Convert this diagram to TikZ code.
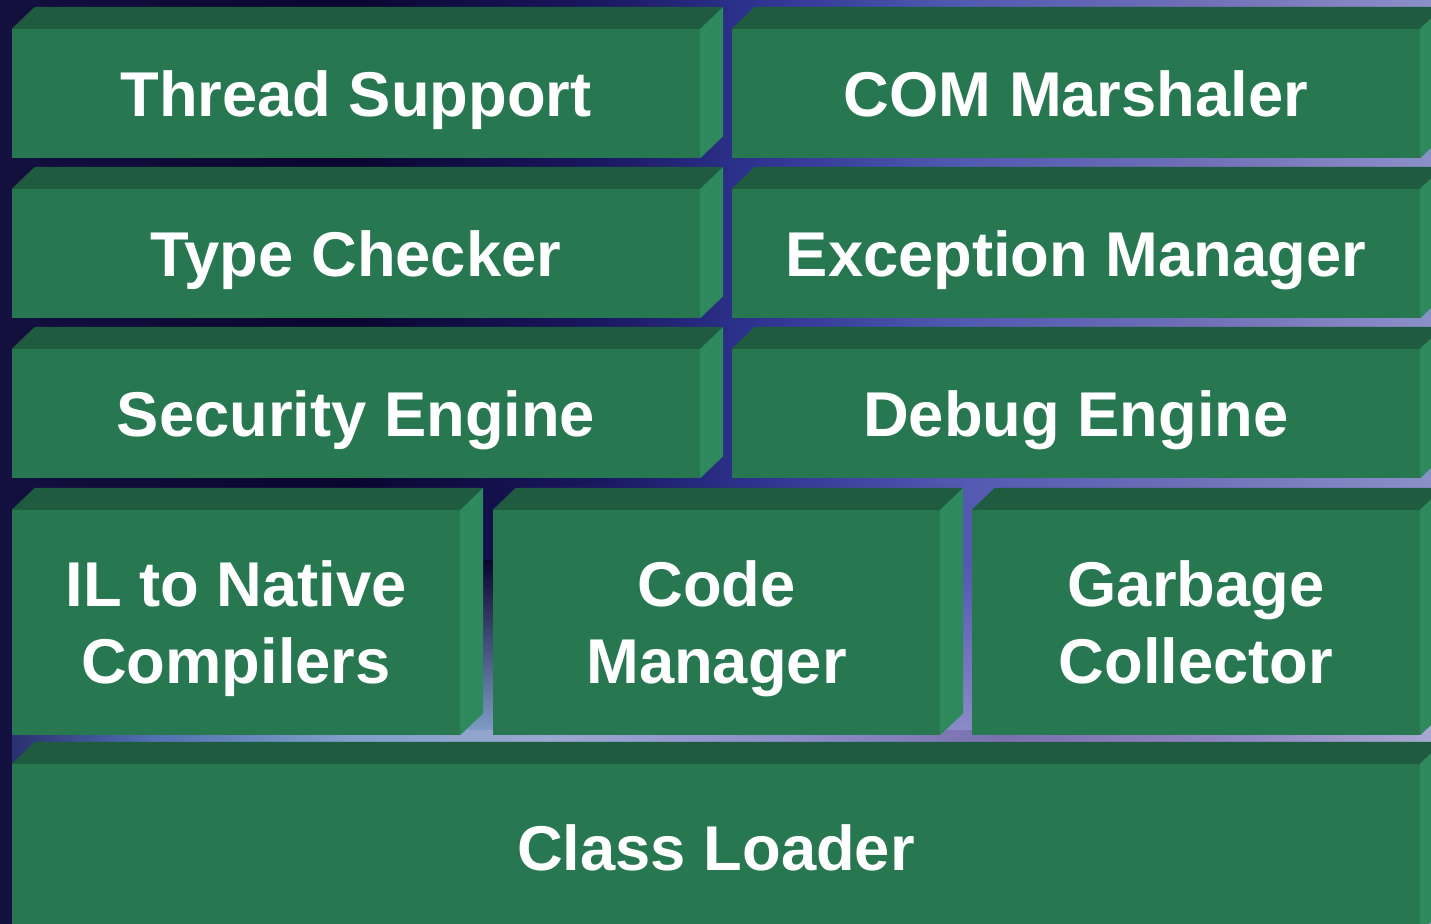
\documentclass[tikz,border=0pt]{standalone}
\usepackage{fontspec}
\setmainfont{Liberation Sans}
\definecolor{frontgreen}{HTML}{277751}
\definecolor{topgreen}{HTML}{1F5B3E}
\definecolor{sidegreen}{HTML}{2E8A5C}
\definecolor{bgA}{HTML}{14103F}
\definecolor{bgB}{HTML}{0A0630}
\definecolor{bgC}{HTML}{1A1860}
\definecolor{bgD}{HTML}{2E3490}
\definecolor{bgE}{HTML}{5058B0}
\definecolor{bgF}{HTML}{7070B8}
\definecolor{bgG}{HTML}{8C90C8}
\definecolor{bandA}{HTML}{2A3070}
\definecolor{bandB}{HTML}{5070B0}
\definecolor{bandC}{HTML}{80A0C8}
\definecolor{bandD}{HTML}{9AA8D0}
\definecolor{bandE}{HTML}{8C8CC8}
\definecolor{bandF}{HTML}{7A70B0}
\definecolor{bandG}{HTML}{9088C0}
\definecolor{bandH}{HTML}{A8A8D0}

% one layer of the runtime: front face as a named node, plus top and side faces
\newcommand\layerbox[7][]{%
  \node[slabface, minimum width=#5pt, minimum height=#6pt, #1] (#2) at (#3,#4) {#7};
  \fill[topface] (#2.north west) -- ++(23,-22) -- ([shift={(23,-22)}]#2.north east) -- (#2.north east) -- cycle;
  \fill[sideface] (#2.north east) -- ++(23,-22) -- ([shift={(23,-22)}]#2.south east) -- (#2.south east) -- cycle;
}

\begin{document}
\begin{tikzpicture}[x=1pt,y=-1pt,
  slabface/.style={fill=frontgreen, inner sep=0pt, text=white,
    font=\bfseries\fontsize{63.3}{77}\selectfont, align=center,
    text height=45.3pt, text depth=0pt},
  twoline/.style={text height=122.3pt},
  topface/.style={fill=topgreen},
  sideface/.style={fill=sidegreen}]
\useasboundingbox (0,0) rectangle (1431,923);
\clip (0,0) rectangle (1431,923);

% backdrop
\fill[left color=bgA, right color=bgB] (0,0) rectangle (350,923);
\fill[left color=bgB, right color=bgC] (349,0) rectangle (600,923);
\fill[left color=bgC, right color=bgD] (599,0) rectangle (760,923);
\fill[left color=bgD, right color=bgE] (759,0) rectangle (950,923);
\fill[left color=bgE, right color=bgF] (949,0) rectangle (1200,923);
\fill[left color=bgF, right color=bgG] (1199,0) rectangle (1431,923);
% light rising into the gaps between the lower layers
\fill[top color=bgB, bottom color=bandC] (455,560) rectangle (500,735);
\fill[top color=bgE, bottom color=bandE] (935,560) rectangle (985,735);
\fill[top color=bgG, bottom color=bandH] (1415,560) rectangle (1431,735);
% lighter band above the class loader
\fill[left color=bandA, right color=bandB] (12,730) rectangle (150,770);
\fill[left color=bandB, right color=bandC] (149,730) rectangle (350,770);
\fill[left color=bandC, right color=bandD] (349,730) rectangle (550,770);
\fill[left color=bandD, right color=bandE] (549,730) rectangle (800,770);
\fill[left color=bandE, right color=bandF] (799,730) rectangle (1000,770);
\fill[left color=bandF, right color=bandG] (999,730) rectangle (1250,770);
\fill[left color=bandG, right color=bandH] (1249,730) rectangle (1431,770);

% layers
\layerbox{thread}{356}{93.5}{688}{129}{Thread Support}
\layerbox{com}{1076}{93.5}{688}{129}{COM Marshaler}
\layerbox{type}{356}{253.5}{688}{129}{Type Checker}
\layerbox{exc}{1076}{253.5}{688}{129}{Exception Manager}
\layerbox{sec}{356}{413.5}{688}{129}{Security Engine}
\layerbox{dbg}{1076}{413.5}{688}{129}{Debug Engine}
\layerbox[twoline]{il}{236}{622.5}{448}{225}{IL to Native\\Compilers}
\layerbox[twoline]{code}{716.5}{622.5}{447}{225}{Code\\Manager}
\layerbox[twoline]{gc}{1196}{622.5}{448}{225}{Garbage\\Collector}
\layerbox{cls}{716}{848}{1408}{168}{Class Loader}
\end{tikzpicture}
\end{document}
